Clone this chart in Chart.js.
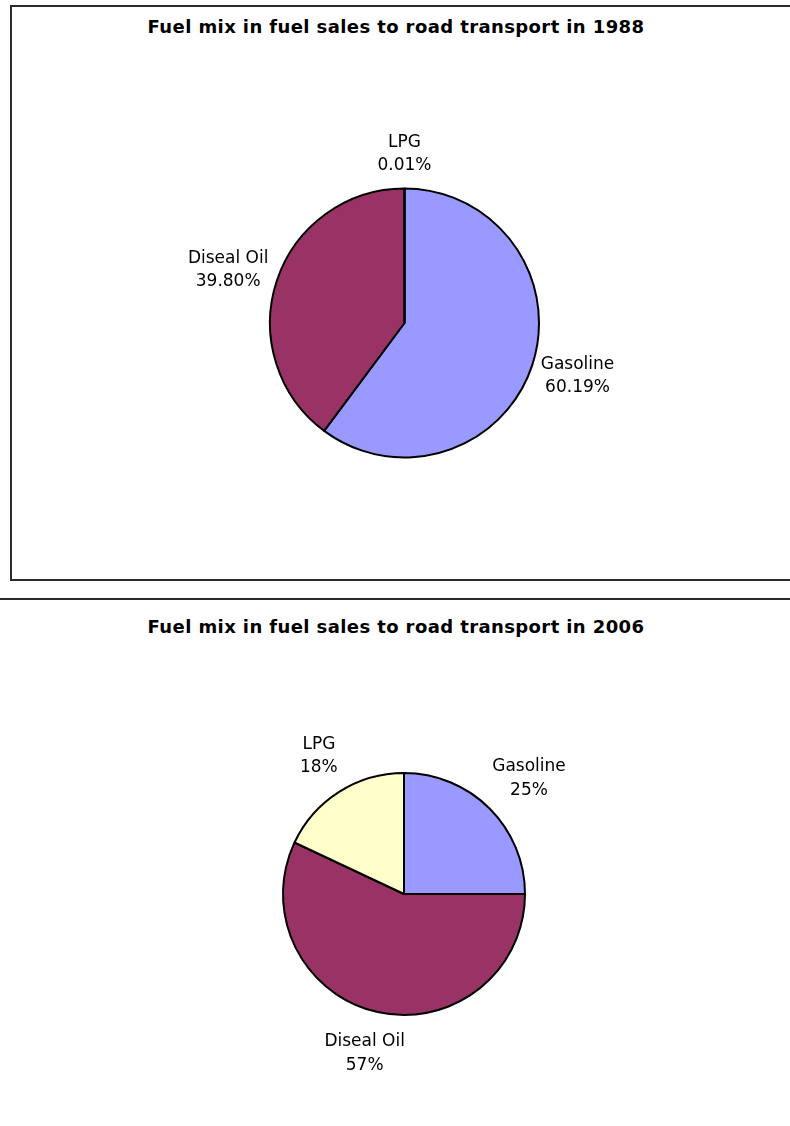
<!DOCTYPE html>
<html>
<head>
<meta charset="utf-8">
<script src="https://cdn.jsdelivr.net/npm/chart.js@4.4.1/dist/chart.umd.min.js"></script>
<style>
    body { margin: 0; background: #fff; overflow: hidden; width: 790px; height: 1126px; position: relative; }
    .frame { position: absolute; border: 2px solid #2b2b2b; box-sizing: border-box; }
    .title { position: absolute; left: 0; width: 792px; text-align: center; font: bold 18px "DejaVu Sans", sans-serif; letter-spacing: 0.4px; line-height: 22px; color: #000; }
    canvas { position: absolute; }
</style>
</head>
<body>
<div class="frame" style="left:10px; top:5px; width:800px; height:576px;"></div>
<div class="frame" style="left:-10px; top:598px; width:820px; height:600px;"></div>

<div class="title" style="top:16px;">Fuel mix in fuel sales to road transport in 1988</div>
<div class="title" style="top:616px;">Fuel mix in fuel sales to road transport in 2006</div>

<canvas id="chart1988" width="778" height="570" style="left:12px; top:8px;"></canvas>
<canvas id="chart2006" width="790" height="525" style="left:0px; top:601px;"></canvas>

<script>
// fuels, in the order they go round the pie (clockwise from 12 o'clock)
const fuels = ['Gasoline', 'Diseal Oil', 'LPG'];
const fuelColors = ['#9999FF', '#993366', '#FFFFCC'];

// share of fuel sales, %
const sales1988 = [60.19, 39.80, 0.01];
const sales2006 = [25, 57, 18];

// draws "name\npercent" outside each slice, along the slice's middle angle
const outsideLabels = {
    id: 'outsideLabels',
    afterDatasetsDraw(chart, args, opts) {
        const ctx = chart.ctx;
        const meta = chart.getDatasetMeta(0);
        const values = chart.data.datasets[0].data;
        const total = values.reduce((a, b) => a + b, 0);
        ctx.save();
        ctx.font = '17px "DejaVu Sans", sans-serif';
        ctx.fillStyle = '#000';
        ctx.textAlign = 'center';
        ctx.textBaseline = 'middle';
        const lineH = 23.5;
        meta.data.forEach((arc, i) => {
            const p = arc.getProps(['x', 'y', 'startAngle', 'endAngle', 'outerRadius'], true);
            const mid = (p.startAngle + p.endAngle) / 2;
            const dx = Math.cos(mid), dy = Math.sin(mid);
            const pct = (values[i] / total * 100).toFixed(opts.decimals) + '%';
            const lines = [chart.data.labels[i], pct];
            const w = Math.max(...lines.map(t => ctx.measureText(t).width));
            const h = lines.length * lineH;
            const r = p.outerRadius + opts.gap;
            const cx = p.x + dx * r + dx * w / 2;
            const cy = p.y + dy * r + dy * h / 2;
            lines.forEach((t, k) => {
                ctx.fillText(t, cx, cy - h / 2 + lineH * (k + 0.5));
            });
        });
        ctx.restore();
    }
};

function drawPie(canvasId, values, radius, padding, gap, decimals) {
    const ctx = document.getElementById(canvasId).getContext('2d');
    return new Chart(ctx, {
        type: 'pie',
        data: {
            labels: fuels,
            datasets: [{
                data: values,
                backgroundColor: fuelColors,
                borderColor: '#000',
                borderWidth: 2
            }]
        },
        options: {
            responsive: false,
            animation: false,
            radius: radius,
            layout: { padding: padding },
            plugins: {
                legend: { display: false },
                tooltip: { enabled: false },
                title: { display: false },
                outsideLabels: { gap: gap, decimals: decimals }
            }
        },
        plugins: [outsideLabels]
    });
}

drawPie('chart1988', sales1988, 134.5, { left: 7, right: 0, top: 60, bottom: 0 }, 11, 2);
drawPie('chart2006', sales2006, 121, { left: 18, right: 0, top: 61, bottom: 0 }, 19, 0);
</script>
</body>
</html>
